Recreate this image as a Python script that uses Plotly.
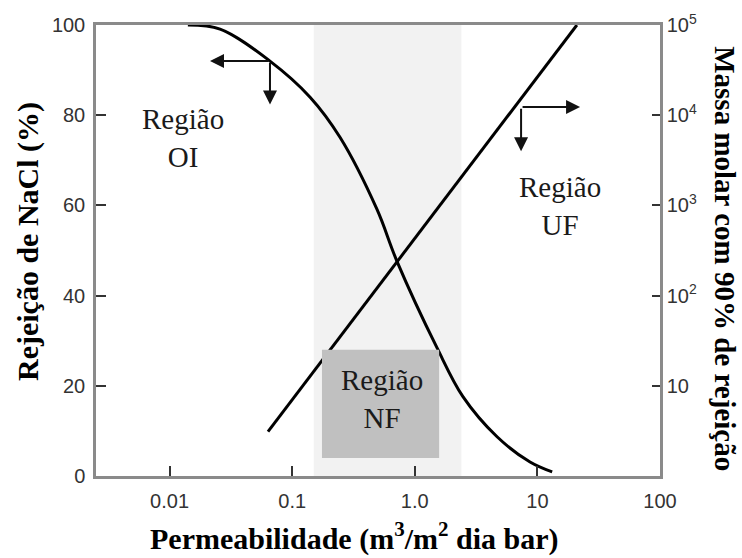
import math
import plotly.graph_objects as go

# Rejection of NaCl (%) vs permeability
perm_rej = [0.0141, 0.0258, 0.0659, 0.140, 0.2455, 0.492, 0.716, 1.52, 2.47, 4.69, 8.71, 13.2]
rejection = [100, 99.1, 92, 84, 75.1, 59.1, 47.6, 28.4, 17.6, 8.7, 3.1, 0.9]

# Molar mass with 90% rejection vs permeability
perm_mass = [0.0635, 21.0]
molar_mass = [3.1, 100000]

x_tickvals = [0.01, 0.1, 1, 10, 100]
x_ticktext = ["0.01", "0.1", "1.0", "10", "100"]
y_tickvals = [0, 20, 40, 60, 80, 100]
y2_tickvals = [10, 100, 1000, 10000, 100000]
y2_ticktext = ["10", "10<sup>2</sup>", "10<sup>3</sup>", "10<sup>4</sup>", "10<sup>5</sup>"]

nf_band = [0.15, 2.4]
nf_box_x = [0.175, 1.58]
nf_box_y = [4, 28]

region_labels = ["Região<br>OI", "Região<br>UF", "Região<br>NF"]
region_x = [0.0128, 15.3, 0.54]
region_y = [75, 59.8, 17.1]

serif = "Liberation Serif"
sans = "Liberation Sans"
axis_col = "#8a8a8a"
tick_col = "#333333"

fig = go.Figure()
fig.add_trace(go.Scatter(x=perm_rej, y=rejection, mode="lines",
                         line=dict(color="black", width=3, shape="spline", smoothing=1.0),
                         showlegend=False, hoverinfo="skip"))
fig.add_trace(go.Scatter(x=perm_mass, y=molar_mass, mode="lines", yaxis="y2",
                         line=dict(color="black", width=3),
                         showlegend=False, hoverinfo="skip"))

fig.add_shape(type="rect", xref="x", yref="paper", x0=nf_band[0], x1=nf_band[1], y0=0, y1=1,
              fillcolor="#f2f2f2", line=dict(width=0), layer="below")
fig.add_shape(type="rect", xref="x", yref="y", x0=nf_box_x[0], x1=nf_box_x[1],
              y0=nf_box_y[0], y1=nf_box_y[1],
              fillcolor="#c0c0c0", line=dict(width=0), layer="above")

for t, xv, yv in zip(region_labels, region_x, region_y):
    fig.add_annotation(x=math.log10(xv), y=yv, xref="x", yref="y", text=t, showarrow=False,
                       xanchor="center", yanchor="middle",
                       font=dict(family=serif, size=29, color="#1a1a1a"), align="center")

# direction arrows
arrows = [
    (-1.670, 92, 60, 0),
    (-1.181, 82.4, 0, -43),
    (1.348, 81.8, -59, 0),
    (0.867, 72, 0, -44),
]
for xv, yv, axp, ayp in arrows:
    fig.add_annotation(x=xv, y=yv, xref="x", yref="y", ax=axp, ay=ayp, text="",
                       showarrow=True, arrowhead=2, arrowsize=1.4, arrowwidth=2,
                       arrowcolor="#111111", standoff=0)

# axis titles
fig.add_annotation(xref="paper", yref="paper", x=-0.1206, y=0.521, text="<b>Rejeição de NaCl (%)</b>",
                   textangle=-90, showarrow=False, xanchor="center", yanchor="middle",
                   font=dict(family=serif, size=30, color="black"))
fig.add_annotation(xref="paper", yref="paper", x=1.116, y=0.482,
                   text="<b>Massa molar com 90% de rejeição</b>",
                   textangle=90, showarrow=False, xanchor="center", yanchor="middle",
                   font=dict(family=serif, size=29, color="black"))
fig.add_annotation(xref="paper", yref="paper", x=0.457, y=-0.135,
                   text="<b>Permeabilidade (m<sup>3</sup>/m<sup>2</sup> dia bar)</b>",
                   showarrow=False, xanchor="center", yanchor="middle",
                   font=dict(family=serif, size=30, color="black"))

fig.update_layout(
    width=742, height=558,
    margin=dict(l=96, r=82, t=25, b=82),
    paper_bgcolor="white", plot_bgcolor="white",
    xaxis=dict(type="log", range=[-2.6, 2], tickvals=x_tickvals, ticktext=x_ticktext,
               showline=True, linecolor=axis_col, linewidth=2.5, mirror=True,
               ticks="inside", ticklen=10, tickwidth=1.5, tickcolor=tick_col,
               showgrid=False, zeroline=False, ticklabelstandoff=5,
               tickfont=dict(family=sans, size=20, color=tick_col)),
    yaxis=dict(range=[0, 100], tickvals=y_tickvals,
               showline=True, linecolor=axis_col, linewidth=2.5,
               ticks="inside", ticklen=10, tickwidth=1.5, tickcolor=tick_col,
               showgrid=False, zeroline=False, ticklabelstandoff=4,
               tickfont=dict(family=sans, size=20, color=tick_col)),
    yaxis2=dict(type="log", range=[0, 5], overlaying="y", side="right",
                tickvals=y2_tickvals, ticktext=y2_ticktext,
                showline=True, linecolor=axis_col, linewidth=2.5,
                ticks="inside", ticklen=8, tickwidth=1.5, tickcolor=tick_col,
                showgrid=False, zeroline=False,
                tickfont=dict(family=sans, size=20, color=tick_col)),
)

fig.write_html("out.html", config={"displayModeBar": False},
               post_script="document.body.style.margin='0';")
